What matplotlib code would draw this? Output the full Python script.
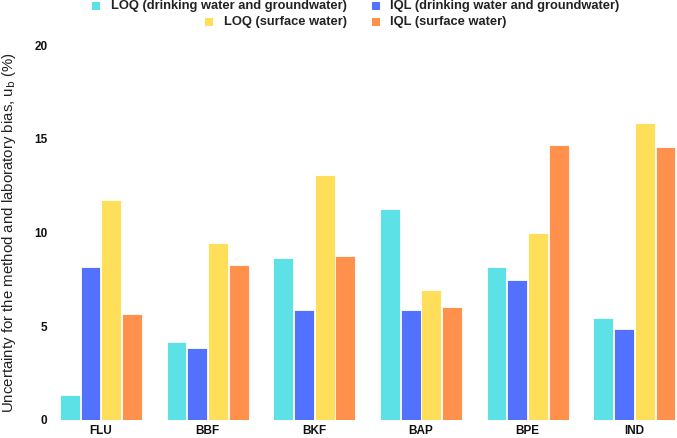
import matplotlib
matplotlib.use("Agg")
import matplotlib.pyplot as plt
import numpy as np
from matplotlib.patches import Rectangle

categories = ["FLU", "BBF", "BKF", "BAP", "BPE", "IND"]
series_names = ["LOQ (drinking water and groundwater)", "IQL (drinking water and groundwater)",
                "LOQ (surface water)", "IQL (surface water)"]
loq_dw = [1.35, 4.15, 8.65, 11.25, 8.15, 5.45]
iql_dw = [8.15, 3.85, 5.85, 5.85, 7.45, 4.85]
loq_sw = [11.75, 9.45, 13.05, 6.95, 9.95, 15.85]
iql_sw = [5.65, 8.25, 8.75, 6.05, 14.65, 14.55]
colors = ["#5CE1E6", "#5271FF", "#FFDE59", "#FF914D"]
yticks = [0, 5, 10, 15, 20]

plt.rcParams['font.family'] = ['Liberation Sans', 'DejaVu Sans']

W, H = 677, 438
fig = plt.figure(figsize=(W / 100, H / 100), dpi=100)
ax = fig.add_axes([60 / W, 1 - 420 / H, (677 - 60) / W, (420 - 45) / H])

x = np.arange(len(categories))
pitch = 0.194
width = 0.185
all_series = [loq_dw, iql_dw, loq_sw, iql_sw]
for i, (vals, c) in enumerate(zip(all_series, colors)):
    ax.bar(x + (i - 1.5) * pitch, vals, width=width, color=c, edgecolor='white', linewidth=0.6, label=series_names[i])

ax.set_xlim(-0.384, 5.40)
ax.set_ylim(0, 20)
ax.set_xticks(x)
ax.set_xticklabels(categories, fontweight='bold', fontsize=8.5, color='#111111')
ax.set_yticks(yticks)
ax.set_yticklabels([str(t) for t in yticks], fontweight='bold', fontsize=8.5, color='#111111')
ax.tick_params(axis='y', length=0, pad=9)
ax.tick_params(axis='x', length=0, pad=3.5)
for s in ax.spines.values():
    s.set_visible(False)
ax.set_ylabel("Uncertainty for the method and laboratory bias, u$_{\\mathrm{b}}$ (%)", fontsize=10.8, color='#222222')
ax.yaxis.set_label_coords(-0.068, 0.5)

# legend drawn manually to match layout (first column right-aligned)
def square(xsq, yc, color):
    fig.patches.append(Rectangle((xsq / W, 1 - (yc + 4) / H), 8 / W, 8 / H, transform=fig.transFigure,
                                 facecolor=color, edgecolor='none'))

# fit legend font so the longest label spans the same width as in the reference
renderer = fig.canvas.get_renderer()
probe = fig.text(0, 0, series_names[0], fontsize=10, fontweight='bold')
wpx = probe.get_window_extent(renderer).width
probe.remove()
fs = 10 * 238 / wpx

r1, r2 = 6, 21.5
square(92, r1, colors[0])
fig.text(347 / W, 1 - r1 / H, series_names[0], ha='right', va='center', fontsize=fs, fontweight='bold', color='#222222')
square(372, r1, colors[1])
fig.text(390 / W, 1 - r1 / H, series_names[1], ha='left', va='center', fontsize=fs, fontweight='bold', color='#222222')
square(205, r2, colors[2])
fig.text(347 / W, 1 - r2 / H, series_names[2], ha='right', va='center', fontsize=fs, fontweight='bold', color='#222222')
square(372, r2, colors[3])
fig.text(390 / W, 1 - r2 / H, series_names[3], ha='left', va='center', fontsize=fs, fontweight='bold', color='#222222')

fig.savefig("out.png", dpi=100)
